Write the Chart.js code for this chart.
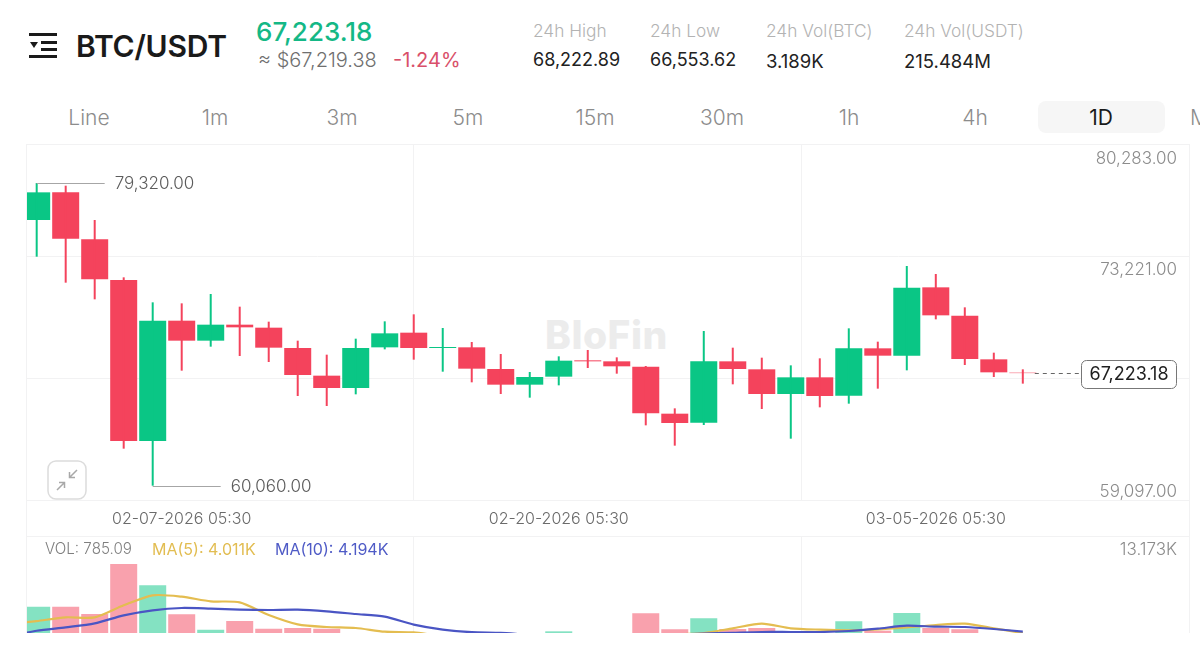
<!DOCTYPE html>
<html>
<head>
<meta charset="utf-8">
<title>BTC/USDT</title>
<script src="https://cdn.jsdelivr.net/npm/chart.js@4/dist/chart.umd.min.js"></script>
<style>
  html, body { margin: 0; padding: 0; background: #fff; width: 1200px; height: 651px; overflow: hidden; font-family: Inter, Roboto, sans-serif; }
  .t { position: absolute; white-space: nowrap; line-height: 1; }
  .tf { position: absolute; top: 107px; width: 100px; text-align: center; font-size: 21px; line-height: 1; color: #8c8c8c; font-weight: 300; white-space: nowrap; }
  .head { font-size: 17.3px; color: #b3b3b3; font-weight: 300; top: 22px; }
  .val { font-size: 18px; color: #222; top: 51px; }
  canvas { position: absolute; }
  #frame { position: absolute; left: 26px; top: 144px; width: 1162px; height: 488px; border: 1px solid #f2f2f3; border-bottom: none; }
  #sep { position: absolute; left: 26px; top: 536px; width: 1163px; height: 1px; background: #f2f2f3; }
  #mark { position: absolute; left: 545px; top: 315px; font-size: 39px; line-height: 1; font-weight: 800; color: #ececec; letter-spacing: 0.5px; }
</style>
</head>
<body>
<div class="t" style="left:76px;top:31px;font-size:30px;font-weight:600;color:#1a1a1a;letter-spacing:-0.2px">BTC/USDT</div>
<svg style="position:absolute;left:29px;top:33px" width="29" height="26" viewBox="0 0 29 26">
  <rect x="0" y="0" width="28" height="3" fill="#1a1a1a"/>
  <rect x="0" y="22" width="28" height="3" fill="#1a1a1a"/>
  <rect x="12" y="8" width="16" height="3" fill="#1a1a1a"/>
  <rect x="12" y="15" width="16" height="3" fill="#1a1a1a"/>
  <path d="M1 9 L9 9 L5 15 Z" fill="#1a1a1a"/>
</svg>
<div class="t" style="left:256px;top:19px;font-size:26px;font-weight:500;color:#14b886">67,223.18</div>
<div class="t" style="left:258px;top:50px;font-size:20px;font-weight:300;color:#6f6f6f">≈ $67,219.38</div>
<div class="t" style="left:393px;top:50px;font-size:20px;font-weight:400;color:#d9506a">-1.24%</div>

<div class="t head" style="left:533px">24h High</div>
<div class="t val" style="left:533px">68,222.89</div>
<div class="t head" style="left:650px">24h Low</div>
<div class="t val" style="left:650px">66,553.62</div>
<div class="t head" style="left:766px">24h Vol(BTC)</div>
<div class="t val" style="left:766px;top:52px;font-size:18.5px">3.189K</div>
<div class="t head" style="left:904px">24h Vol(USDT)</div>
<div class="t val" style="left:904px;top:52px;font-size:18.5px">215.484M</div>

<div style="position:absolute;left:1038px;top:101px;width:127px;height:32px;background:#f6f6f6;border-radius:8px"></div>
<div class="tf" style="left:39px">Line</div>
<div class="tf" style="left:165px">1m</div>
<div class="tf" style="left:292px">3m</div>
<div class="tf" style="left:418px">5m</div>
<div class="tf" style="left:545px">15m</div>
<div class="tf" style="left:672px">30m</div>
<div class="tf" style="left:799px">1h</div>
<div class="tf" style="left:925px">4h</div>
<div class="tf" style="left:1051px;color:#1a1a1a;font-weight:400">1D</div>
<div class="tf" style="left:1190px;width:auto">M</div>

<div id="frame"></div>
<div id="sep"></div>
<div id="mark">BloFin</div>

<canvas id="priceChart" width="1162" height="393" style="left:27px;top:144px"></canvas>
<canvas id="volChart" width="1162" height="96" style="left:27px;top:537px"></canvas>

<svg style="position:absolute;left:47px;top:460px" width="40" height="40" viewBox="0 0 40 40" fill="none">
  <rect x="1" y="1" width="38" height="38" rx="8" stroke="#dcdcdc" stroke-width="1.5" fill="#fff"/>
  <path d="M10 30 L17 23 M12 22.5 H17.5 V28 M30 10 L23 17 M28 17.5 H22.5 V12" stroke="#a8a8a8" stroke-width="1.5"/>
</svg>

<div class="t" style="left:45px;top:541px;font-size:15.2px;font-weight:300;color:#7f7f7f">VOL: 785.09</div>
<div class="t" style="left:152px;top:541px;font-size:16px;color:#e2bd52">MA(5): 4.011K</div>
<div class="t" style="left:275px;top:541px;font-size:16px;color:#4f5bc6">MA(10): 4.194K</div>

<script>
const candleIndex = [0,1,2,3,4,5,6,7,8,9,10,11,12,13,14,15,16,17,18,19,20,21,22,23,24,25,26,27,28,29,30,31,32,33,34];
const opens  = [76966,78726,75735,73148,62903,70560,69288,70306,70115,68821,67061,66276,68863,69797,68821,68864,67485,66488,66997,68036,67973,67634,64643,64070,67973,67464,65894,66955,65788,68800,68333,72681,70879,68100,67252];
const closes = [78726,75778,73190,62903,70560,69288,70306,70136,68842,67103,66276,68821,69754,68821,68885,67506,66488,66976,68015,67973,67655,64664,64049,67973,67485,65894,66955,65767,68800,68333,72660,70900,68121,67273,67223.18];
const highs  = [79320,79150,76966,73318,71727,71663,72257,71451,70497,69288,68397,69415,70518,70964,70094,69203,68439,67294,68291,68694,68227,67676,64982,69903,68842,68206,67718,68164,70073,69224,74039,73530,71409,68524,67464];
const lows   = [74632,72978,71918,62416,60060,67379,68906,68312,67930,65767,65130,65873,68736,68079,67315,66637,65894,65661,66446,67549,67188,63900,62607,63922,66510,64940,63052,65046,65279,66234,67400,70645,67740,66976,66553.62];
const volumes = [7286,7286,6377,12576,9931,6336,4434,5509,4558,4641,4558,3600,3200,3700,2400,3300,3000,2800,4228,2000,2400,6460,4476,5840,4517,4641,3500,3000,5468,4311,6501,4641,4476,3400,785.09];
// the moving averages start one day before the first visible candle
const maIndex = [-1,0,1,2,3,4,5,6,7,8,9,10,11,12,13,14,15,16,17,18,19,20,21,22,23,24,25,26,27,28,29,30,31,32,33,34];
const ma5  = [5100,5500,5963,5963,7451,8691,8526,7947,7823,6253,5095,4765,4641,4186,4100,3600,3300,3200,3100,3000,3000,3000,3300,3800,4020,4600,5178,4600,4434,4352,4476,4724,5013,5178,4600,4011];
const ma10 = [3600,4300,4724,5220,6212,6832,7121,7038,6914,6873,6914,6707,6377,6046,5054,4434,4120,4040,3800,3700,3500,3500,3600,3800,3950,4050,4145,4145,4145,4269,4558,4930,4806,4765,4517,4194];

const priceTicks = [80283, 73221, 59097];
const priceGrid = [74643, 66912, 59118];
const timeGrid = [13, 26.38];
const dateTicks = [5, 18, 31];
const dateLabels = ["02-07-2026 05:30", "02-20-2026 05:30", "03-05-2026 05:30"];
const volTicks = [13173];
const volTickLabels = ["13.173K"];
const highMark = { index: 0, value: 79320, label: "79,320.00" };
const lowMark = { index: 4, value: 60060, label: "60,060.00" };
const lastPrice = { index: 34, value: 67223.18, label: "67,223.18" };

const RED = "#f4435c";
const GREEN = "#0ac685";
const DATE_FONT = { family: "Inter, Roboto, sans-serif", size: 16, weight: "300" };
const AXIS_FONT = { family: "Inter, Roboto, sans-serif", size: 17, weight: "300" };
const isUp = candleIndex.map(i => closes[i] >= opens[i]);
const candleColors = isUp.map(up => up ? GREEN : RED);
const volColors = isUp.map(up => up ? "rgba(10,198,133,0.5)" : "rgba(244,67,92,0.5)");

const setTicks = values => scale => { scale.ticks = values.map(v => ({ value: v })); };
const noWidth = scale => { scale.width = 0; scale.paddingTop = 0; scale.paddingBottom = 0; };
const xRange = { min: -0.334, max: 39.73 };

// little leader lines + the boxed last price, placed through the scales
const markers = {
    id: "markers",
    afterDatasetsDraw(chart) {
        const { ctx, scales: { x, y } } = chart;
        ctx.save();
        ctx.font = "300 17px Inter, Roboto, sans-serif";
        ctx.textBaseline = "middle";
        ctx.textAlign = "left";
        [highMark, lowMark].forEach(m => {
            const px = x.getPixelForValue(m.index);
            const py = Math.round(y.getPixelForValue(m.value)) + 0.5;
            ctx.strokeStyle = "#a6a6a6";
            ctx.lineWidth = 1;
            ctx.beginPath();
            ctx.moveTo(px, py);
            ctx.lineTo(px + 68, py);
            ctx.stroke();
            ctx.fillStyle = "#5c5c5c";
            ctx.fillText(m.label, px + 78, py);
        });

        const lx = x.getPixelForValue(lastPrice.index);
        const ly = Math.round(y.getPixelForValue(lastPrice.value)) + 0.5;
        ctx.strokeStyle = "#666";
        ctx.setLineDash([4, 4]);
        ctx.beginPath();
        ctx.moveTo(lx + 12, ly);
        ctx.lineTo(1054, ly);
        ctx.stroke();
        ctx.setLineDash([]);
        ctx.fillStyle = "#fff";
        ctx.strokeStyle = "#777";
        ctx.beginPath();
        ctx.roundRect(1054.5, ly - 13, 95, 28, 5);
        ctx.fill();
        ctx.stroke();
        ctx.fillStyle = "#1f1f1f";
        ctx.textAlign = "center";
        ctx.font = "400 18px Inter, Roboto, sans-serif";
        ctx.fillText(lastPrice.label, 1102, ly + 1);
        ctx.restore();
    }
};

new Chart(document.getElementById("priceChart"), {
    type: "bar",
    data: {
        datasets: [{
            data: candleIndex.map(i => ({ x: i, y: [lows[i], highs[i]] })),
            backgroundColor: candleColors,
            barThickness: 2,
            inflateAmount: 0
        }, {
            data: candleIndex.map(i => ({ x: i, y: [opens[i], closes[i]] })),
            backgroundColor: candleColors,
            barThickness: 27,
            inflateAmount: 0
        }]
    },
    options: {
        responsive: false,
        animation: false,
        grouped: false,
        layout: { padding: 0 },
        plugins: { legend: { display: false }, tooltip: { enabled: false } },
        scales: {
            x: {
                type: "linear", offset: false, min: xRange.min, max: xRange.max,
                grid: { display: false, offset: false },
                border: { display: false },
                afterBuildTicks: setTicks(dateTicks),
                afterFit: scale => { scale.height = 36; },
                ticks: {
                    autoSkip: false, maxRotation: 0, padding: 1, color: "#6b6b6b", font: DATE_FONT,
                    callback: value => dateLabels[dateTicks.indexOf(value)]
                }
            },
            x2: {
                type: "linear", axis: "x", position: "bottom", offset: false, min: xRange.min, max: xRange.max,
                grid: { color: "#f2f2f3", drawTicks: false, offset: false },
                border: { display: false },
                afterBuildTicks: setTicks(timeGrid),
                afterFit: scale => { scale.height = 0; },
                ticks: { display: false }
            },
            y: {
                type: "linear", position: "right", min: 59086, max: 81802,
                grid: { display: false },
                border: { display: false },
                afterBuildTicks: setTicks(priceTicks),
                afterFit: noWidth,
                ticks: {
                    mirror: true, autoSkip: false, padding: -12, labelOffset: -9, color: "#8c8c8c",
                    font: AXIS_FONT,
                    callback: value => value.toLocaleString("en-US", { minimumFractionDigits: 2 })
                }
            },
            y2: {
                type: "linear", axis: "y", position: "left", min: 59086, max: 81802,
                grid: { color: "#f2f2f3", drawTicks: false },
                border: { display: false },
                afterBuildTicks: setTicks(priceGrid),
                afterFit: noWidth,
                ticks: { display: false }
            }
        }
    },
    plugins: [markers]
});

new Chart(document.getElementById("volChart"), {
    type: "bar",
    data: {
        datasets: [{
            type: "line",
            data: maIndex.map((d, i) => ({ x: d, y: ma5[i] })),
            borderColor: "#e4bd50",
            borderWidth: 2.2,
            pointRadius: 0,
            tension: 0.25,
            clip: 0,
            order: 1
        }, {
            type: "line",
            data: maIndex.map((d, i) => ({ x: d, y: ma10[i] })),
            borderColor: "#4a55c4",
            borderWidth: 2.2,
            pointRadius: 0,
            tension: 0.25,
            clip: 0,
            order: 0
        }, {
            data: candleIndex.map(i => ({ x: i, y: volumes[i] })),
            backgroundColor: volColors,
            barThickness: 27,
            inflateAmount: 0,
            order: 2
        }]
    },
    options: {
        responsive: false,
        animation: false,
        layout: { padding: 0 },
        plugins: { legend: { display: false }, tooltip: { enabled: false } },
        scales: {
            x: {
                type: "linear", offset: false, min: xRange.min, max: xRange.max,
                grid: { color: "#f2f2f3", drawTicks: false, offset: false },
                border: { display: false },
                afterBuildTicks: setTicks(timeGrid),
                afterFit: scale => { scale.height = 0; },
                ticks: { display: false }
            },
            y: {
                type: "linear", position: "right", min: 4020, max: 15924,
                grid: { display: false },
                border: { display: false },
                afterBuildTicks: setTicks(volTicks),
                afterFit: noWidth,
                ticks: {
                    mirror: true, autoSkip: false, padding: -12, labelOffset: -9, color: "#8c8c8c",
                    font: AXIS_FONT,
                    callback: value => volTickLabels[volTicks.indexOf(value)]
                }
            }
        }
    }
});
</script>
</body>
</html>
